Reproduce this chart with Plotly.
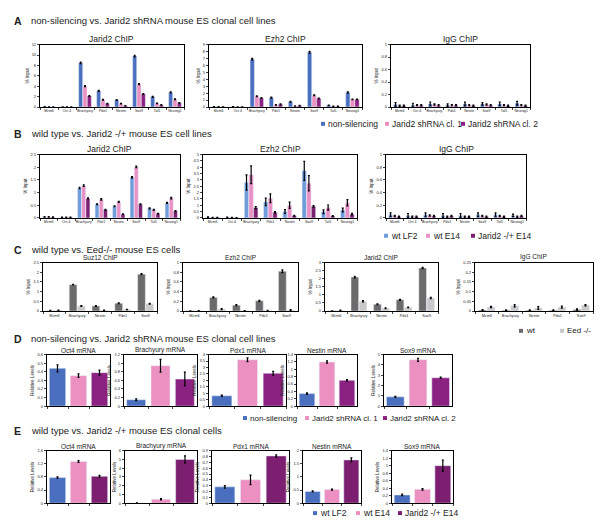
import plotly.graph_objects as go

W, H = 600, 525
FONT = "Liberation Sans, Arial, sans-serif"

## --- panel A: non-silencing vs Jarid2 shRNA, ChIP (% input)
genes_ab = ["Mcm6", "Oct 4", "Brachyury", "Pdx1", "Nestin", "Sox9", "Taf1", "Neurog1"]
series_ad = ["non-silencing", "Jarid2 shRNA cl. 1", "Jarid2 shRNA cl. 2"]
colors_ad = ["#4a6fbf", "#ec90c2", "#8b2180"]

a_jarid2 = [[0.05, 0.03, 8.5, 3.1, 1.35, 9.8, 1.95, 2.8],
            [0.03, 0.02, 4.0, 1.4, 0.65, 4.4, 0.7, 1.5],
            [0.02, 0.02, 2.1, 0.65, 0.26, 2.5, 0.4, 0.8]]
a_jarid2_err = [[0.02, 0.01, 0.15, 0.1, 0.08, 0.15, 0.1, 0.1],
                [0.01, 0.01, 0.1, 0.08, 0.05, 0.12, 0.05, 0.08],
                [0.01, 0.01, 0.08, 0.05, 0.03, 0.1, 0.04, 0.05]]
a_ezh2 = [[0.05, 0.03, 6.9, 1.35, 0.75, 7.9, 0.25, 2.1],
          [0.03, 0.02, 1.55, 0.3, 0.15, 1.7, 0.12, 1.1],
          [0.02, 0.02, 1.3, 0.4, 0.2, 1.25, 0.1, 1.1]]
a_ezh2_err = [[0.02, 0.01, 0.1, 0.08, 0.05, 0.12, 0.04, 0.08],
              [0.01, 0.01, 0.06, 0.04, 0.03, 0.07, 0.02, 0.05],
              [0.01, 0.01, 0.05, 0.05, 0.03, 0.05, 0.02, 0.05]]
a_igg = [[0.04, 0.03, 0.05, 0.03, 0.05, 0.05, 0.05, 0.06],
         [0.02, 0.03, 0.04, 0.03, 0.03, 0.04, 0.03, 0.03],
         [0.02, 0.03, 0.03, 0.03, 0.02, 0.03, 0.02, 0.02]]
a_igg_err = [[0.03, 0.03, 0.03, 0.02, 0.03, 0.02, 0.03, 0.03],
             [0.01, 0.01, 0.01, 0.01, 0.01, 0.01, 0.01, 0.01],
             [0.01, 0.01, 0.01, 0.01, 0.01, 0.01, 0.01, 0.01]]

## --- panel B: wild type vs Jarid2 -/+
series_be = ["wt LF2", "wt E14", "Jarid2 -/+ E14"]
colors_b = ["#6f9ddb", "#e991c6", "#7c1f70"]
colors_e = ["#4a6fbf", "#ec90c2", "#7c1f70"]

b_jarid2 = [[0.04, 0.02, 1.18, 0.54, 0.46, 1.6, 0.38, 0.59],
            [0.04, 0.02, 1.27, 0.73, 0.63, 2.01, 0.32, 0.78],
            [0.03, 0.02, 0.77, 0.32, 0.15, 0.54, 0.17, 0.27]]
b_jarid2_err = [[0.01, 0.01, 0.03, 0.02, 0.02, 0.03, 0.02, 0.02],
                [0.01, 0.01, 0.03, 0.03, 0.02, 0.03, 0.02, 0.03],
                [0.01, 0.01, 0.02, 0.02, 0.01, 0.02, 0.01, 0.02]]
b_ezh2 = [[0.05, 0.04, 2.8, 1.26, 0.5, 3.72, 0.49, 0.62],
          [0.03, 0.03, 3.4, 1.55, 1.0, 2.74, 0.82, 1.2],
          [0.03, 0.02, 0.82, 0.44, 0.18, 0.92, 0.15, 0.3]]
b_ezh2_err = [[0.03, 0.02, 0.6, 0.3, 0.15, 0.75, 0.15, 0.15],
              [0.02, 0.02, 0.7, 0.35, 0.25, 0.6, 0.2, 0.25],
              [0.01, 0.01, 0.08, 0.05, 0.03, 0.06, 0.03, 0.06]]
b_igg = [[0.05, 0.04, 0.05, 0.04, 0.04, 0.05, 0.05, 0.04],
         [0.03, 0.02, 0.04, 0.02, 0.02, 0.03, 0.03, 0.02],
         [0.02, 0.02, 0.03, 0.03, 0.02, 0.02, 0.02, 0.03]]
b_igg_err = [[0.03, 0.03, 0.03, 0.03, 0.03, 0.03, 0.03, 0.02],
             [0.01, 0.01, 0.01, 0.01, 0.01, 0.01, 0.01, 0.01],
             [0.01, 0.01, 0.01, 0.01, 0.01, 0.01, 0.01, 0.01]]

## --- panel C: wild type vs Eed-/-
genes_c = ["Mcm6", "Brachyury", "Nestin", "Pdx1", "Sox9"]
series_c = ["wt", "Eed -/-"]
colors_c = ["#6b6b6b", "#c9c9c9"]

c_suz12 = [[0.02, 1.36, 0.26, 0.4, 1.9], [0.04, 0.26, 0.04, 0.08, 0.38]]
c_suz12_err = [[0.01, 0.02, 0.02, 0.02, 0.03], [0.01, 0.02, 0.01, 0.01, 0.02]]
c_ezh2 = [[0.004, 0.28, 0.12, 0.21, 0.82], [0.005, 0.04, 0.005, 0.01, 0.02]]
c_ezh2_err = [[0.002, 0.01, 0.01, 0.01, 0.03], [0.002, 0.01, 0.002, 0.004, 0.01]]
c_jarid2 = [[0.01, 2.1, 0.42, 0.69, 2.66], [0.04, 0.61, 0.17, 0.23, 0.8]]
c_jarid2_err = [[0.005, 0.05, 0.02, 0.03, 0.04], [0.01, 0.04, 0.02, 0.02, 0.04]]
c_igg = [[0.005, 0.004, 0.004, 0.004, 0.008], [0.021, 0.027, 0.016, 0.02, 0.03]]
c_igg_err = [[0.002, 0.002, 0.002, 0.002, 0.003], [0.003, 0.006, 0.007, 0.005, 0.003]]

## --- panel D: mRNA, non-silencing vs shRNA
d_oct4 = [0.44, 0.355, 0.39]
d_oct4_err = [0.04, 0.02, 0.03]
d_brachyury = [0.15, 0.94, 0.63]
d_brachyury_err = [0.02, 0.15, 0.16]
d_pdx1 = [0.8, 3.6, 2.55]
d_pdx1_err = [0.05, 0.15, 0.15]
d_nestin = [0.34, 1.2, 0.7]
d_nestin_err = [0.02, 0.03, 0.02]
d_sox9 = [0.9, 4.5, 2.75]
d_sox9_err = [0.05, 0.15, 0.07]

## --- panel E: mRNA, wild type vs Jarid2 -/+
e_oct4 = [0.78, 1.27, 0.82]
e_oct4_err = [0.02, 0.03, 0.03]
e_brachyury = [0.02, 0.45, 5.0]
e_brachyury_err = [0.01, 0.08, 0.4]
e_pdx1 = [0.28, 0.4, 0.81]
e_pdx1_err = [0.02, 0.08, 0.02]
e_nestin = [0.45, 0.52, 1.65]
e_nestin_err = [0.02, 0.02, 0.08]
e_sox9 = [0.22, 0.37, 1.0]
e_sox9_err = [0.02, 0.02, 0.15]

fig = go.Figure()
count = [0]


def px_x(v):
    return v / W


def px_y(v):
    return 1 - v / H


def add_axes(box, yrange, dtick, ytitle, title, tsize, xfont=3.5, show_x=True):
    count[0] += 1
    k = count[0]
    sfx = "" if k == 1 else str(k)
    x0, x1, top, bot = box
    fig.update_layout(**{
        "xaxis" + sfx: dict(domain=[px_x(x0), px_x(x1)], anchor="y" + sfx,
                            showline=True, mirror=True, linecolor="black", linewidth=1.2,
                            ticks="outside", ticklen=2, tickwidth=0.8, tickson="boundaries",
                            showticklabels=show_x, tickangle=0, tickfont=dict(size=xfont),
                            showgrid=False, zeroline=False, fixedrange=True),
        "yaxis" + sfx: dict(domain=[px_y(bot), px_y(top)], anchor="x" + sfx,
                            range=yrange, dtick=dtick, tick0=0,
                            showline=True, mirror=True, linecolor="black", linewidth=1.2,
                            ticks="outside", ticklen=2, tickwidth=0.8,
                            tickfont=dict(size=4), showgrid=False, zeroline=False,
                            title=dict(text=ytitle, font=dict(size=4.5), standoff=2)),
    })
    fig.add_annotation(text=title, x=(px_x(x0) + px_x(x1)) / 2, y=px_y(top + 1),
                       xref="paper", yref="paper", xanchor="center", yanchor="bottom",
                       showarrow=False, font=dict(size=tsize))
    return "x" + sfx, "y" + sfx


def chip(box, cats, names, colors, vals, errs, yrange, dtick, title, tsize, xfont=3.5):
    xa, ya = add_axes(box, yrange, dtick, "% Input", title, tsize, xfont)
    for name, col, v, e in zip(names, colors, vals, errs):
        fig.add_trace(go.Bar(x=cats, y=v, name=name, marker_color=col, xaxis=xa, yaxis=ya,
                             error_y=dict(type="data", array=e, color="black", thickness=1.2, width=1),
                             showlegend=False))


def mrna(box, names, colors, vals, errs, yrange, dtick, title):
    xa, ya = add_axes(box, yrange, dtick, "Relative Levels", title, 6.5, show_x=False)
    fig.add_trace(go.Bar(x=names, y=vals, marker_color=colors, width=0.78, xaxis=xa, yaxis=ya,
                         error_y=dict(type="data", array=errs, color="black", thickness=1.2, width=1),
                         showlegend=False))


def section(y, letter, text):
    fig.add_annotation(text="<b>" + letter + "</b>", x=px_x(12), y=px_y(y), xref="paper", yref="paper",
                       xanchor="left", yanchor="middle", showarrow=False, font=dict(size=10.5))
    fig.add_annotation(text=text, x=px_x(29), y=px_y(y), xref="paper", yref="paper",
                       xanchor="left", yanchor="middle", showarrow=False, font=dict(size=9.5))


def legend(y, xs, names, colors, size):
    for x, name, col in zip(xs, names, colors):
        fig.add_shape(type="rect", xref="paper", yref="paper",
                      x0=px_x(x - 2), x1=px_x(x + 2), y0=px_y(y + 2), y1=px_y(y - 2),
                      fillcolor=col, line_width=0)
        fig.add_annotation(text=name, x=px_x(x + 3), y=px_y(y), xref="paper", yref="paper",
                           xanchor="left", yanchor="middle", showarrow=False, font=dict(size=size))


# A
section(18, "A", "non-silencing vs. Jarid2 shRNA mouse ES clonal cell lines")
chip((40, 184, 42, 105), genes_ab, series_ad, colors_ad, a_jarid2, a_jarid2_err, [0, 12], 2, "Jarid2 ChIP", 8.5)
chip((209, 362, 42, 105), genes_ab, series_ad, colors_ad, a_ezh2, a_ezh2_err, [0, 9], 1, "Ezh2 ChIP", 8.5)
chip((391, 530, 42, 105), genes_ab, series_ad, colors_ad, a_igg, a_igg_err, [0, 1], 0.2, "IgG ChIP", 8.5)
legend(122, [323, 387, 463], series_ad, colors_ad, 8.5)

# B
section(132, "B", "wild type vs. Jarid2 -/+ mouse ES cell lines")
chip((40, 180, 153, 217), genes_ab, series_be, colors_b, b_jarid2, b_jarid2_err, [0, 2.5], 0.5, "Jarid2 ChIP", 8.5)
chip((203, 357, 153, 217), genes_ab, series_be, colors_b, b_ezh2, b_ezh2_err, [0, 5], 0.5, "Ezh2 ChIP", 8.5)
chip((386, 526, 153, 217), genes_ab, series_be, colors_b, b_igg, b_igg_err, [0, 1], 0.2, "IgG ChIP", 8.5)
legend(235, [386, 428, 473], series_be, colors_b, 8.5)

# C
section(249, "C", "wild type vs. Eed-/- mouse ES cells")
chip((43, 157, 262, 311), genes_c, series_c, colors_c, c_suz12, c_suz12_err, [0, 2.5], 0.5, "Suz12 ChIP", 6.5, 3.8)
chip((183, 298, 262, 311), genes_c, series_c, colors_c, c_ezh2, c_ezh2_err, [0, 1], 0.2, "Ezh2 ChIP", 6.5, 3.8)
chip((325, 438, 262, 311), genes_c, series_c, colors_c, c_jarid2, c_jarid2_err, [0, 3], 0.5, "Jarid2 ChIP", 6.5, 3.8)
chip((475, 593, 262, 311), genes_c, series_c, colors_c, c_igg, c_igg_err, [0, 0.25], 0.05, "IgG ChIP", 6.5, 3.8)
legend(331, [521, 562], series_c, colors_c, 8)

# D
section(339, "D", "non-silencing vs. Jarid2 shRNA mouse ES clonal cell lines")
mrna((47, 110, 355, 407), series_ad, colors_ad, d_oct4, d_oct4_err, [0, 0.6], 0.1, "Oct4 mRNA")
mrna((124, 197, 355, 407), series_ad, colors_ad, d_brachyury, d_brachyury_err, [0, 1.2], 0.2, "Brachyury mRNA")
mrna((209, 286, 355, 407), series_ad, colors_ad, d_pdx1, d_pdx1_err, [0, 4], 0.5, "Pdx1 mRNA")
mrna((297, 357, 355, 407), series_ad, colors_ad, d_nestin, d_nestin_err, [0, 1.4], 0.2, "Nestin mRNA")
mrna((384, 452, 355, 407), series_ad, colors_ad, d_sox9, d_sox9_err, [0, 5], 1, "Sox9 mRNA")
legend(419, [245, 307, 385], series_ad, colors_ad, 8)

# E
section(432, "E", "wild type vs. Jarid2 -/+ mouse ES clonal cells")
mrna((47, 110, 452, 505), series_be, colors_e, e_oct4, e_oct4_err, [0, 1.6], 0.4, "Oct4 mRNA")
mrna((125, 197, 452, 505), series_be, colors_e, e_brachyury, e_brachyury_err, [0, 6], 1, "Brachyury mRNA")
mrna((212, 289, 452, 505), series_be, colors_e, e_pdx1, e_pdx1_err, [0, 0.9], 0.1, "Pdx1 mRNA")
mrna((303, 361, 452, 505), series_be, colors_e, e_nestin, e_nestin_err, [0, 2], 0.5, "Nestin mRNA")
mrna((392, 453, 452, 505), series_be, colors_e, e_sox9, e_sox9_err, [0, 1.4], 0.2, "Sox9 mRNA")
legend(515, [315, 358, 400], series_be, colors_e, 8.5)

fig.update_layout(width=W, height=H, autosize=False, margin=dict(l=0, r=0, t=0, b=0),
                  paper_bgcolor="white", plot_bgcolor="white", barmode="group",
                  bargap=0.28, bargroupgap=0.06, showlegend=False,
                  font=dict(family=FONT, color="#222"))

# page body has a default 8px margin, drop it so the figure sits at the window corner
fig.write_html("out.html", config={"displayModeBar": False},
               post_script="document.body.style.margin='0';document.body.style.overflow='hidden';")
